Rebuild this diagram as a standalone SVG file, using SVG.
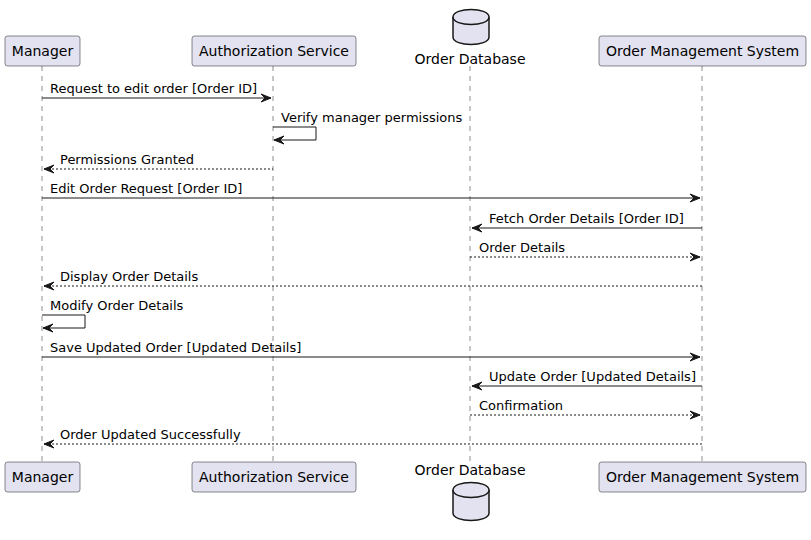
<svg xmlns="http://www.w3.org/2000/svg" width="811" height="540" viewBox="0 0 811 540">
<style>
.box{fill:#E2E2F0;stroke:#181818;stroke-width:0.5}
.db{fill:#E2E2F0;stroke:#181818;stroke-width:1.5}
.life{stroke:#181818;stroke-width:0.5;stroke-dasharray:5,5;fill:none}
.pl{font-family:"DejaVu Sans",sans-serif;font-size:14px;fill:#000}
.ml{font-family:"DejaVu Sans",sans-serif;font-size:13px;fill:#000}
.msg{stroke:#181818;stroke-width:1;fill:none}
.ret{stroke:#181818;stroke-width:1;fill:none;stroke-dasharray:2,2}
.ah{fill:#181818;stroke:#181818;stroke-width:1}
</style>
<rect width="811" height="540" fill="#FFFFFF"/>
<g id="lifelines">
<line class="life" x1="42" y1="66" x2="42" y2="462"/>
<line class="life" x1="273" y1="66" x2="273" y2="462"/>
<line class="life" x1="470" y1="66" x2="470" y2="462"/>
<line class="life" x1="702" y1="66" x2="702" y2="462"/>
</g>
<g id="manager">
<rect class="box" x="5" y="36" width="75" height="30" rx="2.5"/>
<text class="pl" x="42.5" y="56" text-anchor="middle">Manager</text>
<rect class="box" x="5" y="462" width="75" height="30" rx="2.5"/>
<text class="pl" x="42.5" y="482" text-anchor="middle">Manager</text>
</g>
<g id="auth">
<rect class="box" x="192" y="36" width="164" height="30" rx="2.5"/>
<text class="pl" x="274" y="56" text-anchor="middle">Authorization Service</text>
<rect class="box" x="192" y="462" width="164" height="30" rx="2.5"/>
<text class="pl" x="274" y="482" text-anchor="middle">Authorization Service</text>
</g>
<g id="orderdb">
<path class="db" d="M453,17 C453,7 489,7 489,17 L489,37 C489,47 453,47 453,37 Z"/>
<path class="db" d="M453,17 C453,27 489,27 489,17"/>
<text class="pl" x="470" y="64" text-anchor="middle">Order Database</text>
<text class="pl" x="470" y="475" text-anchor="middle">Order Database</text>
<path class="db" d="M453,490 C453,480 489,480 489,490 L489,513 C489,523 453,523 453,513 Z"/>
<path class="db" d="M453,490 C453,500 489,500 489,490"/>
</g>
<g id="oms">
<rect class="box" x="599" y="36" width="207" height="30" rx="2.5"/>
<text class="pl" x="702.5" y="56" text-anchor="middle">Order Management System</text>
<rect class="box" x="599" y="462" width="207" height="30" rx="2.5"/>
<text class="pl" x="702.5" y="482" text-anchor="middle">Order Management System</text>
</g>
<g id="connectors">
<line class="msg" x1="42" y1="98" x2="271" y2="98"/>
<polygon class="ah" points="261,94 271,98 261,102 265,98"/>
<text class="ml" x="50" y="93">Request to edit order [Order ID]</text>

<polyline class="msg" points="273,127 316,127 316,140 274,140"/>
<polygon class="ah" points="284,136 274,140 284,144 280,140"/>
<text class="ml" x="281" y="122">Verify manager permissions</text>

<line class="ret" x1="44" y1="169" x2="273" y2="169"/>
<polygon class="ah" points="54,165 44,169 54,173 50,169"/>
<text class="ml" x="60" y="164">Permissions Granted</text>

<line class="msg" x1="42" y1="198" x2="700" y2="198"/>
<polygon class="ah" points="690,194 700,198 690,202 694,198"/>
<text class="ml" x="50" y="193">Edit Order Request [Order ID]</text>

<line class="msg" x1="472" y1="228" x2="702" y2="228"/>
<polygon class="ah" points="482,224 472,228 482,232 478,228"/>
<text class="ml" x="489" y="223">Fetch Order Details [Order ID]</text>

<line class="ret" x1="470" y1="257" x2="700" y2="257"/>
<polygon class="ah" points="690,253 700,257 690,261 694,257"/>
<text class="ml" x="479" y="252">Order Details</text>

<line class="ret" x1="44" y1="286" x2="702" y2="286"/>
<polygon class="ah" points="54,282 44,286 54,290 50,286"/>
<text class="ml" x="60" y="281">Display Order Details</text>

<polyline class="msg" points="42,315 85,315 85,328 43,328"/>
<polygon class="ah" points="53,324 43,328 53,332 49,328"/>
<text class="ml" x="50" y="310">Modify Order Details</text>

<line class="msg" x1="42" y1="357" x2="700" y2="357"/>
<polygon class="ah" points="690,353 700,357 690,361 694,357"/>
<text class="ml" x="50" y="352">Save Updated Order [Updated Details]</text>

<line class="msg" x1="472" y1="386" x2="702" y2="386"/>
<polygon class="ah" points="482,382 472,386 482,390 478,386"/>
<text class="ml" x="489" y="381">Update Order [Updated Details]</text>

<line class="ret" x1="470" y1="415" x2="700" y2="415"/>
<polygon class="ah" points="690,411 700,415 690,419 694,415"/>
<text class="ml" x="479" y="410">Confirmation</text>

<line class="ret" x1="44" y1="444" x2="702" y2="444"/>
<polygon class="ah" points="54,440 44,444 54,448 50,444"/>
<text class="ml" x="60" y="439">Order Updated Successfully</text>
</g>
</svg>
